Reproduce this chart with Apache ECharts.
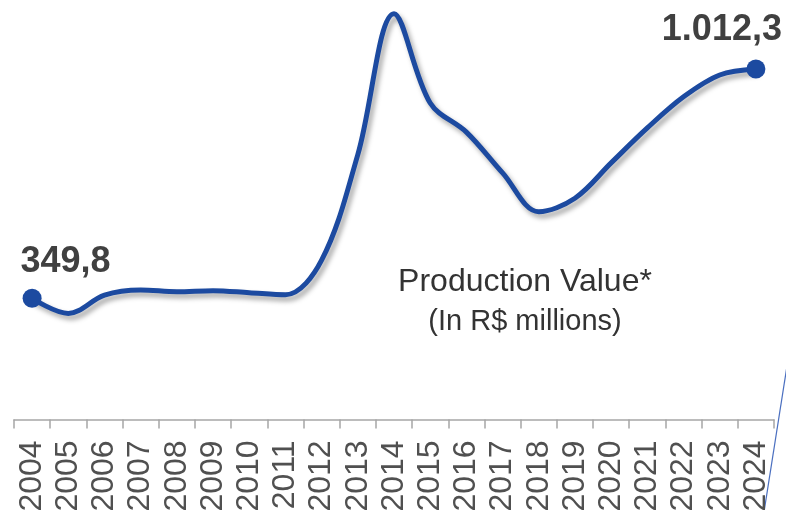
<!DOCTYPE html>
<html>
<head>
<meta charset="utf-8">
<script src="https://cdn.jsdelivr.net/npm/echarts@6/dist/echarts.min.js"></script>
<style>
  html, body { margin: 0; padding: 0; background: #fff; }
  #chartContainer { width: 786px; height: 510px; }
</style>
</head>
<body>
<div id="chartContainer"></div>
<script>
// Datos del gráfico
const years = ['2004', '2005', '2006', '2007', '2008', '2009', '2010', '2011', '2012', '2013', '2014',
  '2015', '2016', '2017', '2018', '2019', '2020', '2021', '2022', '2023', '2024'];
const values = [349.8, 306, 359, 374, 369, 372, 366, 360, 460, 765, 1172,
  914, 830, 712, 600, 639, 741, 842, 932, 995, 1012.3];
const titleLines = ['Production Value*', '(In R$ millions)'];

// formato brasileño: 1.012,3
function fmtBR(v) {
  const parts = v.toFixed(1).split('.');
  return parts[0].replace(/\B(?=(\d{3})+(?!\d))/g, '.') + ',' + parts[1];
}

const last = values.length - 1;
const seriesData = values.map(function (v, i) {
  if (i === 0 || i === last) {
    return {
      value: v,
      symbolSize: 19,
      label: {
        show: true,
        position: 'top',
        offset: i === 0 ? [33.5, -4] : [-34, -6],
        formatter: function (p) { return fmtBR(p.value); },
        fontSize: 36,
        fontWeight: 'bold',
        fontFamily: 'Liberation Sans, Arial, sans-serif',
        color: '#404040'
      }
    };
  }
  return { value: v, symbolSize: 0 };
});

const chart = echarts.init(document.getElementById('chartContainer'));

chart.setOption({
  animation: false,
  grid: { left: 14, right: 12, top: 4, bottom: 90.6, containLabel: false, outerBoundsMode: 'none' },
  xAxis: {
    type: 'category',
    data: years,
    boundaryGap: true,
    axisLine: { lineStyle: { color: '#a6a6a6', width: 1.5 } },
    axisTick: { show: true, length: 9, lineStyle: { color: '#a6a6a6', width: 1.5 } },
    axisLabel: {
      interval: 0,
      rotate: 90,
      margin: 21,
      fontSize: 32,
      fontFamily: 'Liberation Sans, Arial, sans-serif',
      color: '#505050'
    }
  },
  yAxis: {
    type: 'value',
    min: 0,
    max: 1200,
    show: false,
    splitLine: { show: false }
  },
  series: [{
    type: 'line',
    data: seriesData,
    smooth: 0.35,
    symbol: 'circle',
    itemStyle: { color: '#1c4aa0' },
    lineStyle: {
      color: '#1c4aa0',
      width: 5,
      shadowColor: 'rgba(0,0,0,0.35)',
      shadowBlur: 5,
      shadowOffsetX: 3,
      shadowOffsetY: 4
    }
  }],
  graphic: [
    {
      type: 'text',
      x: 525,
      y: 266,
      style: {
        text: titleLines[0],
        textAlign: 'center',
        fontSize: 32,
        fontFamily: 'Liberation Sans, Arial, sans-serif',
        fill: '#333'
      }
    },
    {
      type: 'text',
      x: 525,
      y: 307,
      style: {
        text: titleLines[1],
        textAlign: 'center',
        fontSize: 29,
        fontFamily: 'Liberation Sans, Arial, sans-serif',
        fill: '#333'
      }
    },
    {
      type: 'line',
      shape: { x1: 787, y1: 366, x2: 764, y2: 512 },
      style: { stroke: '#4a6fc0', lineWidth: 1.2 }
    }
  ]
});
</script>
</body>
</html>
